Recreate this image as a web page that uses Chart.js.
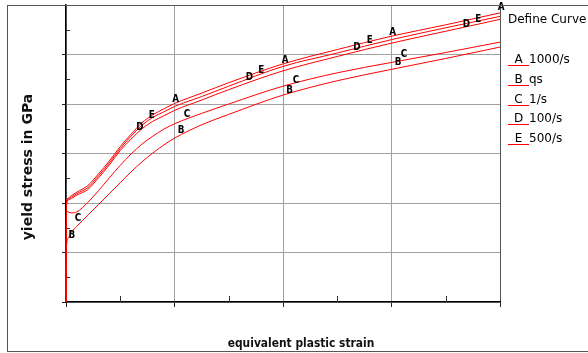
<!DOCTYPE html>
<html>
<head>
<meta charset="utf-8">
<script src="https://cdn.jsdelivr.net/npm/chart.js@4.4.0/dist/chart.umd.min.js"></script>
<style>
  body { margin: 0; background: #fff; }
  #wrap { position: relative; width: 588px; height: 353px; overflow: hidden; font-family: "DejaVu Sans", sans-serif; color: #000; }
  #chart { position: absolute; left: 0; top: 0; }
  #frame { position: absolute; left: 7px; top: 5px; width: 600px; height: 347px; border: 1.5px solid #555; box-sizing: border-box; pointer-events: none; }
  #ytitle { position: absolute; left: 27px; top: 167px; transform: translate(-50%, -50%) rotate(-90deg); font-weight: bold; font-size: 14px; white-space: nowrap; color: #111; }
  #xtitle { position: absolute; left: 301px; top: 343px; transform: translate(-50%, -50%) scaleX(0.89); font-weight: bold; font-size: 12px; white-space: nowrap; color: #111; }
  #legend { position: absolute; left: 508px; top: 0; font-size: 12px; }
  .legtitle, .legrow { position: absolute; left: 0; white-space: nowrap; line-height: 14px; }
  .letter { display: inline-block; width: 21px; text-align: center; line-height: 11px; border-bottom: 1px solid #f00; }
</style>
</head>
<body>
<div id="wrap">
  <canvas id="chart" width="588" height="353"></canvas>
  <div id="frame"></div>
  <div id="ytitle">yield stress in GPa</div>
  <div id="xtitle">equivalent plastic strain</div>
  <div id="legend"></div>
</div>
<script>
// equivalent plastic strain, shared by all curves
const strain  = [0, 0.0005, 0.002, 0.005, 0.01, 0.02, 0.03, 0.04, 0.05, 0.06, 0.07, 0.08, 0.09, 0.1, 0.125, 0.15, 0.2, 0.25, 0.3, 0.35, 0.4];
// yield stress (GPa) per strain rate
const stressA = [0, 0.200, 0.210, 0.215, 0.222, 0.235, 0.259, 0.285, 0.314, 0.339, 0.362, 0.378, 0.390, 0.401, 0.422, 0.443, 0.481, 0.510, 0.537, 0.560, 0.584];
const stressB = [0, 0.115, 0.129, 0.141, 0.153, 0.175, 0.197, 0.219, 0.241, 0.263, 0.283, 0.301, 0.317, 0.331, 0.358, 0.379, 0.418, 0.447, 0.470, 0.492, 0.515];
const stressC = [0, 0.184, 0.182, 0.180, 0.182, 0.201, 0.225, 0.251, 0.276, 0.299, 0.319, 0.335, 0.349, 0.360, 0.381, 0.400, 0.436, 0.463, 0.484, 0.504, 0.525];
const stressD = [0, 0.196, 0.206, 0.209, 0.216, 0.227, 0.251, 0.277, 0.306, 0.329, 0.350, 0.365, 0.376, 0.387, 0.408, 0.429, 0.467, 0.496, 0.523, 0.547, 0.571];
const stressE = [0, 0.198, 0.208, 0.212, 0.219, 0.231, 0.255, 0.281, 0.310, 0.335, 0.357, 0.373, 0.384, 0.395, 0.415, 0.436, 0.476, 0.503, 0.530, 0.554, 0.577];

const curveLetters = ['A', 'B', 'C', 'D', 'E'];
const curveRates   = ['1000/s', 'qs', '1/s', '100/s', '500/s'];

// where the curve letters sit (strain, stress)
const markStrainA = [0.101, 0.202, 0.301, 0.401];
const markStressA = [0.410, 0.489, 0.545, 0.596];
const markStrainB = [0.0055, 0.106, 0.206, 0.306];
const markStressB = [0.135, 0.347, 0.428, 0.485];
const markStrainC = [0.011, 0.1115, 0.212, 0.3115];
const markStressC = [0.170, 0.380, 0.448, 0.501];
const markStrainD = [0.068, 0.169, 0.268, 0.369];
const markStressD = [0.354, 0.455, 0.515, 0.562];
const markStrainE = [0.079, 0.180, 0.280, 0.380];
const markStressE = [0.378, 0.469, 0.529, 0.572];

const xMinor = [0.05, 0.15, 0.25, 0.35];
const yMinor = [0.05, 0.15, 0.25, 0.35, 0.45, 0.55];

const stressSets = { A: stressA, B: stressB, C: stressC, D: stressD, E: stressE };
const marks = {
    A: [markStrainA, markStressA],
    B: [markStrainB, markStressB],
    C: [markStrainC, markStressC],
    D: [markStrainD, markStressD],
    E: [markStrainE, markStressE]
};

// legend on the right
const legend = document.getElementById('legend');
legend.innerHTML = '<div class="legtitle" style="top:12px">Define Curve</div>' +
    curveLetters.map((l, i) =>
        `<div class="legrow" style="top:${52 + i * 19.75}px"><span class="letter">${l}</span>${curveRates[i]}</div>`
    ).join('');

const minorTicks = {
    id: 'minorTicks',
    beforeDatasetsDraw(chart) {
        const { ctx, chartArea, scales: { x, y } } = chart;
        ctx.save();
        ctx.strokeStyle = '#333';
        ctx.lineWidth = 1;
        ctx.beginPath();
        yMinor.forEach(v => {
            const py = Math.round(y.getPixelForValue(v)) + 0.5;
            ctx.moveTo(chartArea.left, py);
            ctx.lineTo(chartArea.left + 4, py);
        });
        xMinor.forEach(v => {
            const px = Math.round(x.getPixelForValue(v)) + 0.5;
            ctx.moveTo(px, chartArea.bottom);
            ctx.lineTo(px, chartArea.bottom - 6);
        });
        ctx.stroke();
        ctx.restore();
    }
};

const curveMarks = {
    id: 'curveMarks',
    afterDatasetsDraw(chart) {
        const { ctx, scales: { x, y } } = chart;
        ctx.save();
        ctx.font = 'bold 11px "DejaVu Sans"';
        ctx.fillStyle = '#000';
        ctx.textAlign = 'center';
        ctx.textBaseline = 'middle';
        curveLetters.forEach(l => {
            const [sx, sy] = marks[l];
            sx.forEach((v, i) => {
                ctx.save();
                ctx.translate(x.getPixelForValue(v), y.getPixelForValue(sy[i]));
                ctx.scale(0.8, 1);
                ctx.fillText(l, 0, 0);
                ctx.restore();
            });
        });
        ctx.restore();
    }
};

const ctx = document.getElementById('chart').getContext('2d');
new Chart(ctx, {
    type: 'line',
    data: {
        datasets: curveLetters.map(l => ({
            label: l,
            data: strain.map((s, i) => ({ x: s, y: stressSets[l][i] })),
            borderColor: '#ff0000',
            borderWidth: 1,
            pointRadius: 0,
            cubicInterpolationMode: 'monotone',
            clip: 6
        }))
    },
    options: {
        responsive: false,
        animation: false,
        layout: { padding: { left: 0, top: 5, right: 88, bottom: 0 } },
        plugins: { legend: { display: false }, tooltip: { enabled: false } },
        scales: {
            x: {
                type: 'linear',
                min: 0,
                max: 0.4,
                ticks: { display: false, stepSize: 0.1 },
                grid: {
                    color: c => c.index === 4 ? '#555' : '#a0a0a0',
                    tickColor: '#222',
                    tickLength: 5
                },
                border: { color: '#000', width: 1.5 },
                afterFit: s => { s.height = 51; }
            },
            y: {
                min: 0,
                max: 0.6,
                ticks: { display: false, stepSize: 0.1 },
                grid: {
                    color: c => c.index === 6 ? '#555' : '#a0a0a0',
                    tickColor: '#222',
                    tickLength: 4
                },
                border: { color: '#000', width: 1.5 },
                afterFit: s => { s.width = 66; }
            }
        }
    },
    plugins: [minorTicks, curveMarks]
});
</script>
</body>
</html>
